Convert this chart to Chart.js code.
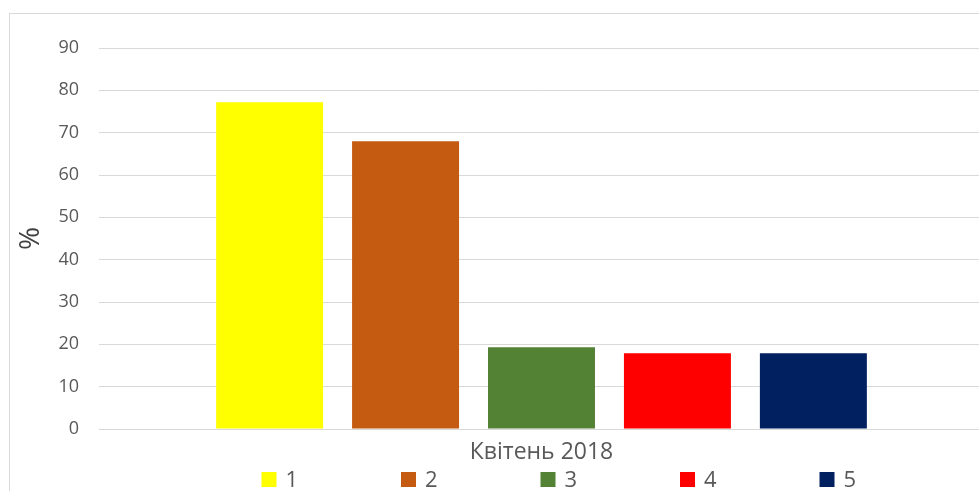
<!DOCTYPE html>
<html>
<head>
<meta charset="utf-8">
<script src="https://cdn.jsdelivr.net/npm/chart.js@4.4.1/dist/chart.umd.min.js"></script>
<style>
  html, body { margin: 0; padding: 0; background: #fff; overflow: hidden; }
  #frame {
    position: absolute; left: 9px; top: 13px;
    width: 990px; height: 500px;
    border: 1px solid #d9d9d9;
  }
  #frame canvas { display: block; }
</style>
</head>
<body>
<div id="frame"><canvas id="chart" width="990" height="500"></canvas></div>
<script>
// data
const categories = ['Квітень 2018'];
const seriesNames = ['1', '2', '3', '4', '5'];
const seriesValues = [[77.2], [68.0], [19.3], [17.9], [17.9]];
const seriesColors = ['#ffff00', '#c55a11', '#548235', '#ff0000', '#002060'];
const yTicks = [0, 10, 20, 30, 40, 50, 60, 70, 80, 90];

const FONT = "'Open Sans', sans-serif";
const TEXT = '#595959';
const GRID = '#d9d9d9';

// legend drawn under the axis label, evenly spaced like the original
const spacedLegend = {
    id: 'spacedLegend',
    afterDraw(chart) {
        const ctx = chart.ctx;
        const area = chart.chartArea;
        const mid = (area.left + area.right) / 2;
        const pitch = 139.5;
        const y = 466;
        ctx.save();
        ctx.font = '22px ' + FONT;
        ctx.textBaseline = 'middle';
        ctx.textAlign = 'left';
        chart.data.datasets.forEach((ds, i) => {
            const x = mid - 1 + (i - 2) * pitch;
            ctx.fillStyle = ds.backgroundColor;
            ctx.fillRect(x, y - 8, 15, 15);
            ctx.fillStyle = TEXT;
            ctx.fillText(ds.label, x + 24, y + 1);
        });
        ctx.restore();
    }
};

new Chart(document.getElementById('chart'), {
    type: 'bar',
    data: {
        labels: categories,
        datasets: seriesNames.map((name, i) => ({
            label: name,
            data: seriesValues[i],
            backgroundColor: seriesColors[i],
            categoryPercentage: 0.768,
            barPercentage: 0.787
        }))
    },
    options: {
        responsive: false,
        animation: false,
        layout: { padding: { top: 34, right: 16, bottom: 45, left: 0 } },
        plugins: {
            legend: { display: false },
            tooltip: { enabled: false }
        },
        scales: {
            x: {
                grid: { display: false },
                border: { display: true, color: GRID, width: 1 },
                ticks: { color: TEXT, font: { family: FONT, size: 23 }, padding: 2 },
                afterFit(scale) { scale.height = 40; }
            },
            y: {
                min: 0,
                max: 90,
                afterBuildTicks(scale) { scale.ticks = yTicks.map(v => ({ value: v })); },
                grid: { color: GRID, lineWidth: 1, drawTicks: false },
                border: { display: false },
                ticks: { color: TEXT, font: { family: FONT, size: 18 }, padding: 20 },
                title: {
                    display: true,
                    text: '%',
                    color: '#404040',
                    font: { family: FONT, size: 28 },
                    padding: { top: 4, bottom: 0 }
                },
                afterFit(scale) { scale.width = 89; }
            }
        }
    },
    plugins: [spacedLegend]
});
</script>
</body>
</html>
